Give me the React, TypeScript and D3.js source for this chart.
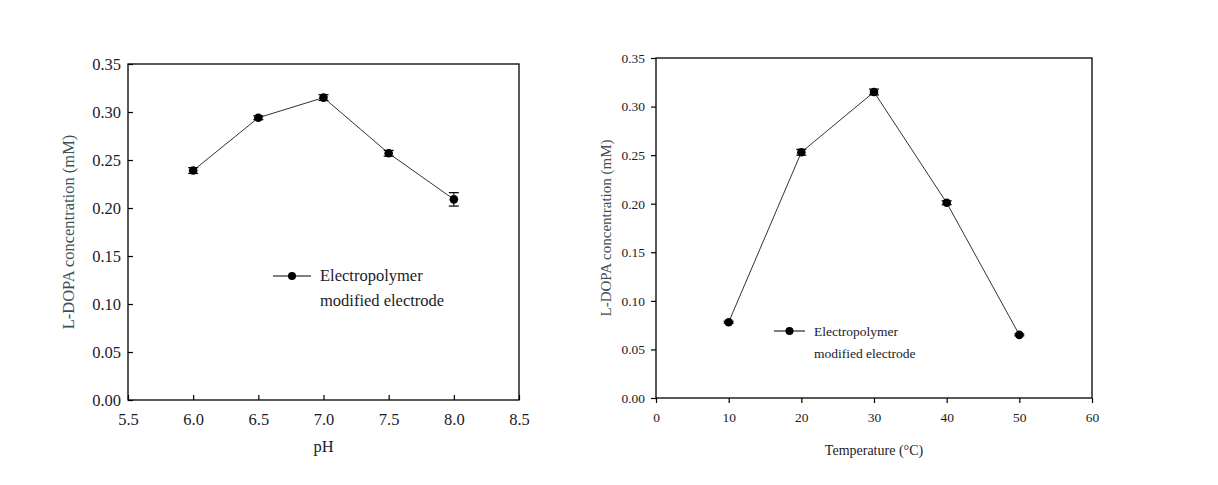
import React, { useEffect, useRef } from 'react';
import * as d3 from 'd3';

// pH panel
const phValues = [6.0, 6.5, 7.0, 7.5, 8.0];
const phConc = [0.239, 0.294, 0.315, 0.257, 0.209];
const phErr = [0.003, 0.002, 0.003, 0.003, 0.007];
const phTicks = [5.5, 6.0, 6.5, 7.0, 7.5, 8.0, 8.5];

// temperature panel
const tempValues = [10, 20, 30, 40, 50];
const tempConc = [0.078, 0.253, 0.315, 0.201, 0.065];
const tempErr = [0.001, 0.003, 0.003, 0.002, 0.001];
const tempTicks = [0, 10, 20, 30, 40, 50, 60];

const concTicks = [0, 0.05, 0.1, 0.15, 0.2, 0.25, 0.3, 0.35];
const legendLines = ['Electropolymer', 'modified electrode'];

interface PanelOpts {
  left: number;
  top: number;
  width: number;
  height: number;
  xDomain: [number, number];
  xTicks: number[];
  xFmt: (d: number) => string;
  xs: number[];
  ys: number[];
  errs: number[];
  xLabel: string;
  fontSize: number;
  labelSize: number;
  yLabelSize: number;
  tickDir: 1 | -1; // 1 = inward, -1 = outward
  xLabelY: number;
  yLabelX: number;
  legend: { x: number; y: number; size: number; gap: number; fontSize: number };
}

const FONT = '"Liberation Serif", "Times New Roman", serif';

function drawPanel(svg: d3.Selection<SVGSVGElement, unknown, null, undefined>, o: PanelOpts) {
  const g = svg.append('g').attr('transform', `translate(${o.left},${o.top})`);
  const x = d3.scaleLinear().domain(o.xDomain).range([0, o.width]);
  const y = d3.scaleLinear().domain([0, 0.35]).range([o.height, 0]);
  const tl = 5;

  const xAxis = d3.axisBottom(x).tickValues(o.xTicks).tickFormat(d => o.xFmt(d as number))
    .tickSizeInner(o.tickDir === 1 ? -tl : tl).tickSizeOuter(0)
    .tickPadding(o.tickDir === 1 ? 13 : 9);
  const yAxis = d3.axisLeft(y).tickValues(concTicks).tickFormat(d3.format('.2f'))
    .tickSizeInner(o.tickDir === 1 ? -tl : tl).tickSizeOuter(0)
    .tickPadding(o.tickDir === 1 ? 7 : 6);

  const gx = g.append('g').attr('transform', `translate(0,${o.height})`).call(xAxis);
  const gy = g.append('g').call(yAxis);
  [gx, gy].forEach(a => {
    a.select('.domain').remove();
    a.selectAll('line').attr('stroke', '#000').attr('stroke-width', 1.2);
    a.selectAll('text').attr('font-family', FONT).attr('font-size', o.fontSize).attr('fill', '#1a1a2a');
  });

  g.append('rect').attr('width', o.width).attr('height', o.height)
    .attr('fill', 'none').attr('stroke', '#000').attr('stroke-width', 1.3);

  // x label
  g.append('text').attr('x', o.width / 2).attr('y', o.height + o.xLabelY)
    .attr('text-anchor', 'middle').attr('font-family', FONT).attr('font-size', o.labelSize)
    .attr('fill', '#1a1a2a').text(o.xLabel);
  // y label
  g.append('text').attr('transform', `translate(${o.yLabelX},${o.height / 2}) rotate(-90)`)
    .attr('text-anchor', 'middle').attr('font-family', FONT).attr('font-size', o.yLabelSize)
    .attr('fill', '#3f4f55').text('L-DOPA concentration (mM)');

  const pts = o.xs.map((v, i) => ({ x: v, y: o.ys[i], e: o.errs[i] }));
  const line = d3.line<{ x: number; y: number }>().x(d => x(d.x)).y(d => y(d.y));
  g.append('path').datum(pts).attr('d', line).attr('fill', 'none')
    .attr('stroke', '#333').attr('stroke-width', 1);

  const eb = g.selectAll('.eb').data(pts).enter().append('g');
  eb.append('line').attr('x1', d => x(d.x)).attr('x2', d => x(d.x))
    .attr('y1', d => y(d.y - d.e)).attr('y2', d => y(d.y + d.e)).attr('stroke', '#000');
  [1, -1].forEach(s => {
    eb.append('line').attr('x1', d => x(d.x) - 5).attr('x2', d => x(d.x) + 5)
      .attr('y1', d => y(d.y + s * d.e)).attr('y2', d => y(d.y + s * d.e))
      .attr('stroke', '#000').attr('stroke-width', 1.2);
  });
  g.selectAll('.pt').data(pts).enter().append('circle')
    .attr('cx', d => x(d.x)).attr('cy', d => y(d.y)).attr('r', 4.3).attr('fill', '#000');

  // legend
  const lg = g.append('g').attr('transform', `translate(${o.legend.x},${o.legend.y})`);
  lg.append('line').attr('x1', 0).attr('x2', o.legend.size).attr('y1', 0).attr('y2', 0)
    .attr('stroke', '#000').attr('stroke-width', 1);
  lg.append('circle').attr('cx', o.legend.size / 2).attr('cy', 0).attr('r', 4).attr('fill', '#000');
  legendLines.forEach((t, i) => {
    lg.append('text').attr('x', o.legend.size + 9).attr('y', 5 + i * o.legend.gap)
      .attr('font-family', FONT).attr('font-size', o.legend.fontSize)
      .attr('fill', '#1a1a2a').text(t);
  });
}

export default function App() {
  const ref = useRef<SVGSVGElement>(null);

  useEffect(() => {
    if (!ref.current) return;
    const svg = d3.select(ref.current);
    svg.selectAll('*').remove();

    drawPanel(svg, {
      left: 128, top: 64, width: 391, height: 336,
      xDomain: [5.5, 8.5], xTicks: phTicks, xFmt: d3.format('.1f'),
      xs: phValues, ys: phConc, errs: phErr,
      xLabel: 'pH', fontSize: 16.5, labelSize: 16.5, yLabelSize: 16.5, tickDir: 1,
      xLabelY: 52, yLabelX: -54,
      legend: { x: 145, y: 212, size: 38, gap: 25, fontSize: 16.5 },
    });

    drawPanel(svg, {
      left: 656, top: 58, width: 436, height: 340,
      xDomain: [0, 60], xTicks: tempTicks, xFmt: d3.format('d'),
      xs: tempValues, ys: tempConc, errs: tempErr,
      xLabel: 'Temperature (°C)', fontSize: 13.5, labelSize: 14, yLabelSize: 15, tickDir: -1,
      xLabelY: 57, yLabelX: -45,
      legend: { x: 118, y: 273, size: 31, gap: 22, fontSize: 13.5 },
    });
  }, []);

  return (
    <svg ref={ref} width={1218} height={485}
      style={{ position: 'absolute', left: 0, top: 0, display: 'block', background: '#fff' }} />
  );
}
